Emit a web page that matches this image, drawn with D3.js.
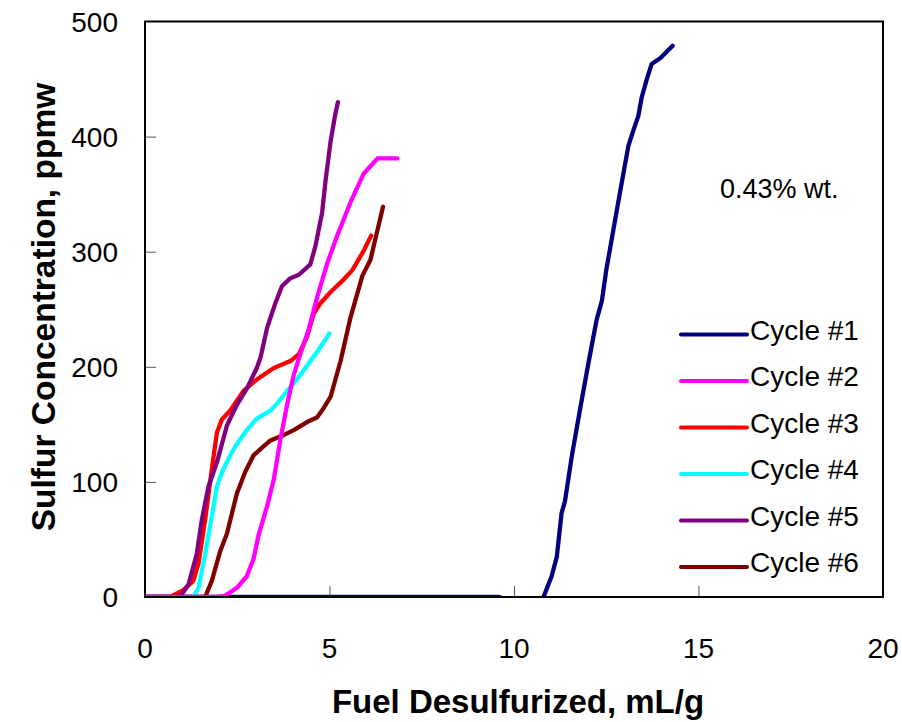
<!DOCTYPE html>
<html>
<head>
<meta charset="utf-8">
<script src="https://cdn.jsdelivr.net/npm/d3@7"></script>
<style>
    body { margin: 0; background: #fff; }
    text { font-family: "Liberation Sans", Arial, sans-serif; fill: #000; }
</style>
</head>
<body>
<svg id="chart" width="902" height="722"></svg>
<script>
// x = fuel desulfurized (mL/g), y = sulfur concentration (ppmw)
const cycle1 = [
    [0, 0], [9.6, 0], [9.75, -2], [10.7, -2], [10.8, 0], [11.02, 18], [11.16, 35], [11.29, 73],
    [11.38, 83], [11.56, 121], [11.79, 163], [12.01, 202], [12.24, 241], [12.38, 257],
    [12.51, 286], [12.6, 302], [12.83, 344], [13.1, 392], [13.23, 405], [13.37, 418],
    [13.46, 434], [13.6, 450], [13.73, 463], [13.96, 468], [14.3, 479],
];
const cycle2 = [
    [0, 0], [1.95, 0], [2.17, 1], [2.49, 8], [2.76, 18], [2.94, 33], [3.08, 54], [3.31, 79],
    [3.49, 102], [3.67, 137], [3.85, 167], [4.03, 193], [4.21, 211], [4.44, 233], [4.67, 261],
    [4.94, 290], [5.21, 314], [5.57, 343], [5.93, 368], [6.3, 381], [6.84, 381],
];
const cycle3 = [
    [0, 0], [0.68, 0], [1.04, 6], [1.31, 14], [1.45, 29], [1.63, 67], [1.81, 111], [1.95, 143],
    [2.08, 154], [2.31, 162], [2.67, 179], [3.03, 189], [3.49, 199], [3.94, 205], [4.17, 211],
    [4.39, 226], [4.57, 246], [4.75, 255], [5.03, 265], [5.39, 276], [5.62, 284], [5.93, 301],
    [6.13, 314],
];
const cycle4 = [
    [0, 0], [1.31, 0], [1.45, 8], [1.63, 37], [1.81, 70], [1.95, 96], [2.08, 108], [2.31, 123],
    [2.49, 133], [2.76, 145], [3.03, 155], [3.4, 162], [3.58, 168], [3.85, 179], [4.12, 189],
    [4.39, 201], [4.71, 215], [5.0, 229],
];
const cycle5 = [
    [0, 0], [0.95, 0], [1.18, 11], [1.4, 37], [1.54, 67], [1.72, 96], [1.95, 117], [2.22, 149],
    [2.49, 167], [2.76, 181], [3.03, 199], [3.13, 208], [3.31, 234], [3.53, 255], [3.71, 270],
    [3.94, 277], [4.17, 280], [4.48, 289], [4.62, 305], [4.8, 334], [4.89, 361], [5.03, 396],
    [5.16, 420], [5.23, 430],
];
const cycle6 = [
    [0, 0], [1.63, 0], [1.81, 14], [2.04, 40], [2.22, 55], [2.49, 90], [2.72, 109], [2.94, 123],
    [3.22, 131], [3.4, 136], [3.71, 140], [4.03, 145], [4.39, 152], [4.66, 156], [4.84, 164],
    [5.03, 174], [5.3, 205], [5.57, 243], [5.89, 279], [6.11, 293], [6.45, 339],
];

const seriesNames = ["Cycle #1", "Cycle #2", "Cycle #3", "Cycle #4", "Cycle #5", "Cycle #6"];
const seriesData = [cycle1, cycle2, cycle3, cycle4, cycle5, cycle6];
const seriesColors = ["#000080", "#ff00ff", "#ff0000", "#00ffff", "#800080", "#800000"];
const drawOrder = [0, 5, 3, 2, 4, 1];

const xTicks = [0, 5, 10, 15, 20];
const yTicks = [0, 100, 200, 300, 400, 500];

const svg = d3.select("#chart");
const plot = { left: 145, right: 883, top: 21.5, bottom: 597 };

const x = d3.scaleLinear().domain([0, 20]).range([plot.left, plot.right]);
const y = d3.scaleLinear().domain([0, 500]).range([plot.bottom, plot.top]);

svg.append("defs").append("clipPath").attr("id", "clip")
    .append("rect")
    .attr("x", plot.left).attr("y", plot.top)
    .attr("width", plot.right - plot.left).attr("height", plot.bottom - plot.top);

// 曲线
const line = d3.line().x((d) => x(d[0])).y((d) => y(d[1]));
const lines = svg.append("g").attr("clip-path", "url(#clip)");
drawOrder.forEach((i) => {
    lines.append("path")
        .datum(seriesData[i])
        .attr("fill", "none")
        .attr("stroke", seriesColors[i])
        .attr("stroke-width", 4.3)
        .attr("stroke-linejoin", "round")
        .attr("stroke-linecap", "round")
        .attr("d", line);
});

// inner ticks
svg.append("g")
    .attr("transform", `translate(0,${plot.bottom})`)
    .call(d3.axisTop(x).tickValues(xTicks.slice(1, -1)).tickSize(11).tickFormat(""))
    .call((g) => g.select(".domain").remove())
    .call((g) => g.selectAll("line").attr("stroke", "#555"));
svg.append("g")
    .attr("transform", `translate(${plot.left},0)`)
    .call(d3.axisRight(y).tickValues(yTicks.slice(1, -1)).tickSize(11).tickFormat(""))
    .call((g) => g.select(".domain").remove())
    .call((g) => g.selectAll("line").attr("stroke", "#555"));

// frame
svg.append("rect")
    .attr("x", plot.left).attr("y", plot.top)
    .attr("width", plot.right - plot.left).attr("height", plot.bottom - plot.top)
    .attr("fill", "none").attr("stroke", "#000").attr("stroke-width", 2);

// tick labels
svg.append("g").selectAll("text")
    .data(xTicks).enter().append("text")
    .attr("x", (d) => x(d)).attr("y", 658)
    .attr("text-anchor", "middle")
    .style("font-size", "28px")
    .text((d) => d);
svg.append("g").selectAll("text")
    .data(yTicks).enter().append("text")
    .attr("x", 118).attr("y", (d) => y(d) + 10)
    .attr("text-anchor", "end")
    .style("font-size", "28px")
    .text((d) => d);

// axis titles
svg.append("text")
    .attr("x", 518).attr("y", 713)
    .attr("text-anchor", "middle")
    .style("font-size", "33px").style("font-weight", "bold")
    .text("Fuel Desulfurized, mL/g");
svg.append("text")
    .attr("transform", "translate(55,307) rotate(-90)")
    .attr("text-anchor", "middle")
    .style("font-size", "33.5px").style("font-weight", "bold")
    .text("Sulfur Concentration, ppmw");

svg.append("text")
    .attr("x", 720).attr("y", 198)
    .style("font-size", "27px")
    .text("0.43% wt.");

// legend
const legend = svg.append("g");
seriesNames.forEach((name, i) => {
    const ly = 334.5 + i * 46.5;
    legend.append("line")
        .attr("x1", 681).attr("x2", 747)
        .attr("y1", ly).attr("y2", ly)
        .attr("stroke", seriesColors[i])
        .attr("stroke-width", 4)
        .attr("stroke-linecap", "round");
    legend.append("text")
        .attr("x", 750).attr("y", ly + 5)
        .style("font-size", "28px")
        .text(name);
});
</script>
</body>
</html>
